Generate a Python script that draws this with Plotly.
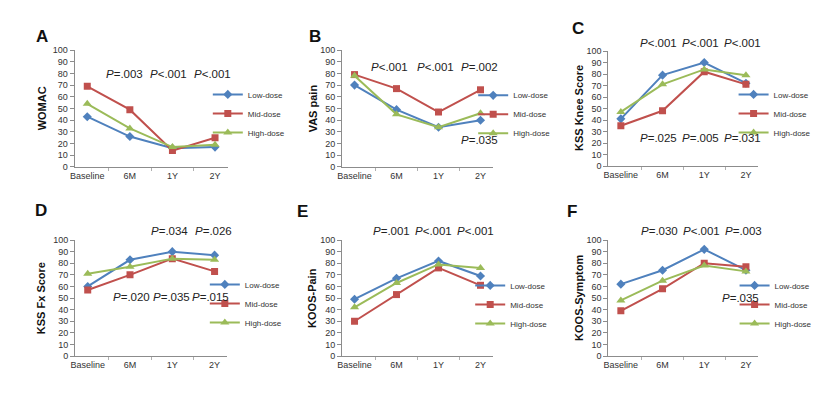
import plotly.graph_objects as go

W, H = 821, 393

categories = ["Baseline", "6M", "1Y", "2Y"]
series_names = ["Low-dose", "Mid-dose", "High-dose"]

womac_low = [43, 26, 16, 17]
womac_mid = [69, 49, 14, 25]
womac_high = [54, 33, 17, 19]

vas_low = [70, 49, 34, 40]
vas_mid = [79, 67, 47, 66]
vas_high = [78, 45, 34, 46]

kss_knee_low = [41, 79, 90, 72]
kss_knee_mid = [35, 48, 82, 71]
kss_knee_high = [47, 71, 84, 79]

kss_fx_low = [60, 83, 90, 87]
kss_fx_mid = [57, 70, 84, 73]
kss_fx_high = [71, 77, 84, 83]

koos_pain_low = [49, 67, 82, 69]
koos_pain_mid = [30, 53, 76, 61]
koos_pain_high = [42, 63, 79, 76]

koos_sym_low = [62, 74, 92, 74]
koos_sym_mid = [39, 58, 80, 77]
koos_sym_high = [48, 65, 78, 73]

panel_letters = ["A", "B", "C", "D", "E", "F"]
y_titles = ["WOMAC", "VAS pain", "KSS Knee Score", "KSS Fx Score", "KOOS-Pain", "KOOS-Symptom"]
panel_data = [
    (womac_low, womac_mid, womac_high),
    (vas_low, vas_mid, vas_high),
    (kss_knee_low, kss_knee_mid, kss_knee_high),
    (kss_fx_low, kss_fx_mid, kss_fx_high),
    (koos_pain_low, koos_pain_mid, koos_pain_high),
    (koos_sym_low, koos_sym_mid, koos_sym_high),
]
p_labels = [
    [("<i>P</i>=.003", 111.7, 63), ("<i>P</i><.001", 156, 63), ("<i>P</i><.001", 201, 63)],
    [("<i>P</i><.001", 378.7, 55), ("<i>P</i><.001", 424.7, 55), ("<i>P</i>=.002", 469, 55),
     ("<i>P</i>=.035", 469, 130.7)],
    [("<i>P</i><.001", 649, 30.7), ("<i>P</i><.001", 691.7, 30.7), ("<i>P</i><.001", 734.3, 30.7),
     ("<i>P</i>=.025", 649, 128.3), ("<i>P</i>=.005", 691.7, 128.3), ("<i>P</i>=.031", 734.3, 128.3)],
    [("<i>P</i>=.034", 157, 223.3), ("<i>P</i>=.026", 201.7, 223.3),
     ("<i>P</i>=.020", 119.2, 291.7), ("<i>P</i>=.035", 159.5, 291.7), ("<i>P</i>=.015", 198.7, 291.7)],
    [("<i>P</i>=.001", 381.3, 223.3), ("<i>P</i><.001", 422.8, 223.3), ("<i>P</i><.001", 465, 223.3)],
    [("<i>P</i>=.030", 650, 223.3), ("<i>P</i><.001", 692.3, 223.3), ("<i>P</i>=.003", 735, 223.3),
     ("<i>P</i>=.035", 732.3, 292.7)],
]

colors = ["#4F81BD", "#C0504D", "#9BBB59"]
symbols = ["diamond", "square", "triangle-up"]
msizes = [7, 7, 8]

# layout geometry (pixels)
x_px = [(62, 216), (331, 483), (599, 750), (62.5, 215.5), (331, 483), (599, 750)]
y_px = [(158, 38), (158, 38), (157, 39), (352, 233), (352, 233), (352, 233)]
letter_px = [(29, 24), (304, 24), (568, 16), (28, 203), (291, 204), (562, 204)]
ytitle_px = [(29, 98), (301.7, 98), (569, 98), (28.3, 292.5), (300.7, 292.5), (569.3, 292.5)]
# legend line-sample start (px) and middle entry y (px)
legend_px = [(209, 103), (476, 104), (738, 103), (206, 298), (473, 299), (739, 299)]


def px_x(v):
    return v / W


def px_y(v):
    return 1 - v / H


FONT = "Liberation Sans, Arial, sans-serif"
fig = go.Figure()
annotations = []
layout = {}

for i in range(6):
    n = "" if i == 0 else str(i + 1)
    xa, ya = "x" + n, "y" + n
    lg = "legend" + n
    for s in range(3):
        fig.add_trace(go.Scatter(
            x=categories, y=panel_data[i][s], name=series_names[s],
            mode="lines+markers", xaxis=xa, yaxis=ya, legend=lg,
            line=dict(color=colors[s], width=2),
            marker=dict(symbol=symbols[s], size=msizes[s], color=colors[s]),
        ))
    layout["xaxis" + n] = dict(
        domain=[px_x(x_px[i][0]), px_x(x_px[i][1])], anchor=ya,
        type="category", showline=True, linecolor="#8c8c8c", linewidth=1,
        ticks="outside", tickson="boundaries", ticklen=3, tickcolor="#b0b0b0",
        showgrid=False, zeroline=False, fixedrange=True, tickangle=0,
        tickfont=dict(size=9, color="#333333", family=FONT),
    )
    layout["yaxis" + n] = dict(
        domain=[px_y(y_px[i][0]), px_y(y_px[i][1])], anchor=xa,
        range=[0, 100], tick0=0, dtick=10, showline=True, linecolor="#8c8c8c",
        linewidth=1, ticks="outside", ticklen=4, tickcolor="#8c8c8c",
        showgrid=False, zeroline=False, fixedrange=True,
        tickfont=dict(size=9, color="#333333", family=FONT),
    )
    layout[lg] = dict(
        x=px_x(legend_px[i][0] - 13), y=px_y(legend_px[i][1]),
        xanchor="left", yanchor="middle", bgcolor="rgba(0,0,0,0)",
        font=dict(size=8, color="#333333", family=FONT), itemwidth=30,
    )
    annotations.append(dict(
        text="<b>" + panel_letters[i] + "</b>", x=px_x(letter_px[i][0]), y=px_y(letter_px[i][1]),
        xref="paper", yref="paper", showarrow=False, xanchor="center", yanchor="middle",
        font=dict(size=17, color="#111111", family=FONT),
    ))
    annotations.append(dict(
        text="<b>" + y_titles[i] + "</b>", x=px_x(ytitle_px[i][0]), y=px_y(ytitle_px[i][1]),
        xref="paper", yref="paper", showarrow=False, xanchor="center", yanchor="middle",
        textangle=-90, font=dict(size=11, color="#111111", family=FONT),
    ))
    for txt, px, py in p_labels[i]:
        annotations.append(dict(
            text=txt, x=px_x(px), y=px_y(py), xref="paper", yref="paper",
            showarrow=False, xanchor="center", yanchor="middle",
            font=dict(size=11.5, color="#222222", family=FONT),
        ))

fig.update_layout(
    width=W, height=H, margin=dict(l=0, r=0, t=0, b=0),
    paper_bgcolor="white", plot_bgcolor="white",
    font=dict(family=FONT), showlegend=True,
    annotations=annotations, **layout,
)

fig.write_html("out.html")
